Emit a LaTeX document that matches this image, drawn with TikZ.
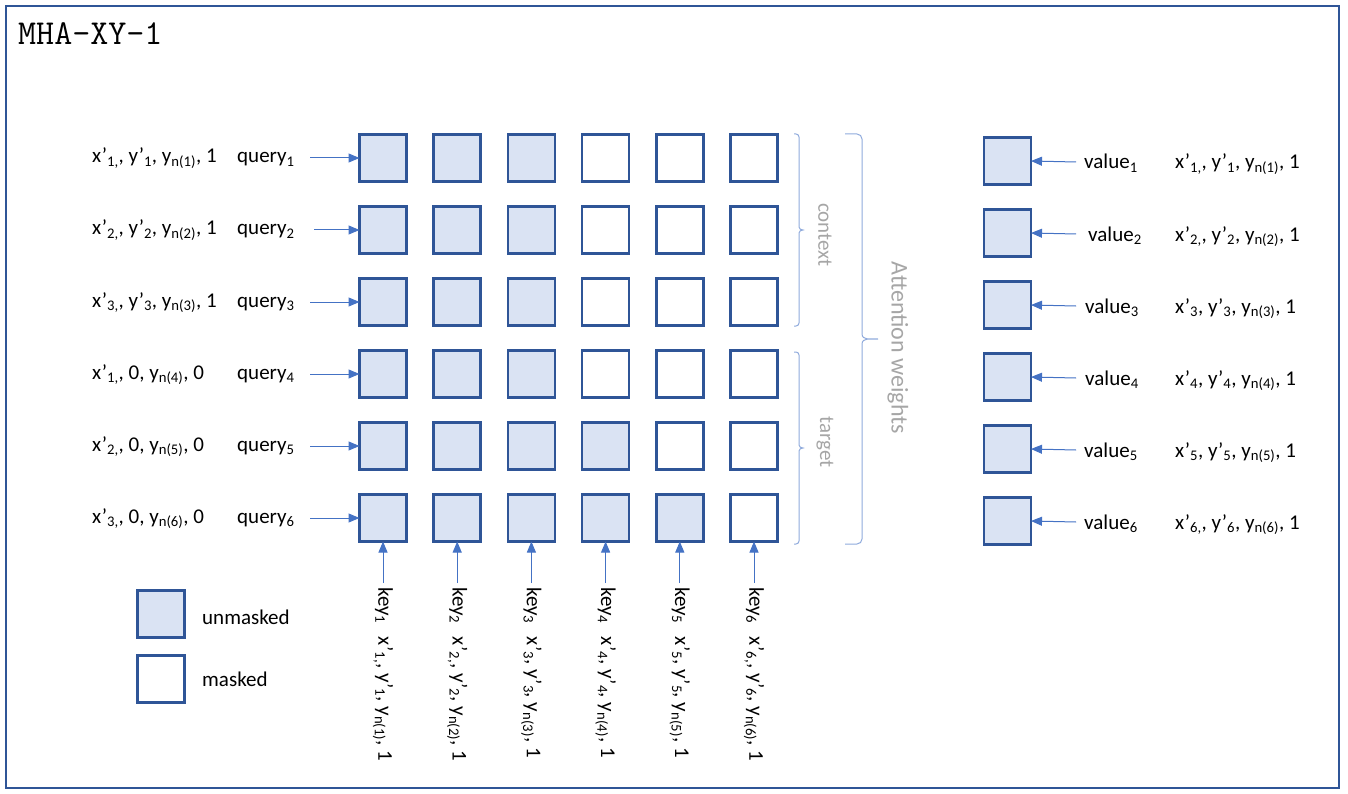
\documentclass[tikz,border=0pt]{standalone}
\usepackage{fontspec}
\setmainfont{Carlito}
\usetikzlibrary{arrows.meta}
\definecolor{boxline}{HTML}{2F5597}
\definecolor{boxfill}{HTML}{DAE3F3}
\definecolor{arr}{HTML}{4472C4}
\definecolor{brc}{HTML}{8FAADC}
\definecolor{lbl}{HTML}{A6A6A6}
\tikzset{
  cell/.style={draw=boxline, line width=2.5pt, minimum size=47pt, inner sep=0pt, outer sep=0pt},
  oncell/.style={cell, fill=boxfill},
  offcell/.style={cell, fill=white},
  arrowln/.style={draw=arr, line width=1pt, -{Triangle[length=11pt,width=9pt]}},
  txt/.style={font=\fontsize{21}{25}\selectfont, inner sep=0pt, anchor=base west},
  keytxt/.style={font=\fontsize{21}{25}\selectfont, inner sep=0pt, rotate=-90, anchor=west},
  bracestyle/.style={draw=brc, line width=1pt},
  graytxt/.style={text=lbl, inner sep=0pt, rotate=-90}
}
\begin{document}
\begin{tikzpicture}[x=1pt,y=-1pt]
\useasboundingbox (0,0) rectangle (1348,794);
\draw[boxline, line width=2pt] (6,6) rectangle (1339,788);
\node[inner sep=0pt, anchor=base west, font=\ttfamily\fontsize{35}{40}\selectfont] (title) at (18,45) {MHA-XY-1};

% grid
\foreach \r in {1,...,6}{
  \foreach \c in {1,...,6}{
    \pgfmathtruncatemacro\lim{max(3,\r-1)}
    \ifnum\c>\lim
      \node[offcell] (g\r-\c) at ({383+74.2*(\c-1)}, {158+72*(\r-1)}) {};
    \else
      \node[oncell] (g\r-\c) at ({383+74.2*(\c-1)}, {158+72*(\r-1)}) {};
    \fi
  }
}

% queries
\foreach \r/\t/\sx in {
  1/{x’\textsubscript{1,}, y’\textsubscript{1}, y\textsubscript{n(1)}, 1}/310,
  2/{x’\textsubscript{2,}, y’\textsubscript{2}, y\textsubscript{n(2)}, 1}/314,
  3/{x’\textsubscript{3,}, y’\textsubscript{3}, y\textsubscript{n(3)}, 1}/310,
  4/{x’\textsubscript{1,}, 0, y\textsubscript{n(4)}, 0}/310,
  5/{x’\textsubscript{2,}, 0, y\textsubscript{n(5)}, 0}/310,
  6/{x’\textsubscript{3,}, 0, y\textsubscript{n(6)}, 0}/310}{
  \node[txt] (qc\r) at (92, {158+72*(\r-1)+5}) {\t};
  \node[txt] (q\r) at (237, {158+72*(\r-1)+5}) {query\textsubscript{\r}};
  \coordinate (qs\r) at (\sx, {158+72*(\r-1)});
  \draw[arrowln] (qs\r) -- (g\r-1.west);
}

% keys
\foreach \c/\t in {
  1/{x’\textsubscript{1,}, y’\textsubscript{1}, y\textsubscript{n(1)}, 1},
  2/{x’\textsubscript{2,}, y’\textsubscript{2}, y\textsubscript{n(2)}, 1},
  3/{x’\textsubscript{3}, y’\textsubscript{3}, y\textsubscript{n(3)}, 1},
  4/{x’\textsubscript{4}, y’\textsubscript{4}, y\textsubscript{n(4)}, 1},
  5/{x’\textsubscript{5}, y’\textsubscript{5}, y\textsubscript{n(5)}, 1},
  6/{x’\textsubscript{6,}, y’\textsubscript{6}, y\textsubscript{n(6)}, 1}}{
  \node[keytxt] (k\c) at ({383+74.2*(\c-1)}, 587) {key\textsubscript{\c}\hspace{13pt}\t};
  \coordinate (ks\c) at ({383+74.2*(\c-1)}, 583);
  \draw[arrowln] (ks\c) -- (g6-\c.south);
}

% values
\foreach \r/\t/\lx in {
  1/{x’\textsubscript{1,}, y’\textsubscript{1}, y\textsubscript{n(1)}, 1}/1084,
  2/{x’\textsubscript{2,}, y’\textsubscript{2}, y\textsubscript{n(2)}, 1}/1088,
  3/{x’\textsubscript{3}, y’\textsubscript{3}, y\textsubscript{n(3)}, 1}/1085,
  4/{x’\textsubscript{4}, y’\textsubscript{4}, y\textsubscript{n(4)}, 1}/1085,
  5/{x’\textsubscript{5}, y’\textsubscript{5}, y\textsubscript{n(5)}, 1}/1084,
  6/{x’\textsubscript{6,}, y’\textsubscript{6}, y\textsubscript{n(6)}, 1}/1084}{
  \node[oncell] (v\r) at (1007.5, {161+72*(\r-1)}) {};
  \node[txt] (vl\r) at (\lx, {161+72*(\r-1)+8}) {value\textsubscript{\r}};
  \node[txt] (vc\r) at (1175, {161+72*(\r-1)+8}) {\t};
  \coordinate (vs\r) at (1076, {161+72*(\r-1)+1});
  \draw[arrowln] (vs\r) -- (v\r.east);
}

% braces
\draw[bracestyle] (794,134) -- (796,134) to[out=0,in=90] (799,137) -- (799,227)
  to[out=-90,in=180] (803,230) to[out=180,in=90] (799,233) -- (799,323)
  to[out=-90,in=0] (796,326) -- (794,326);
\draw[bracestyle] (794,352) -- (796,352) to[out=0,in=90] (799,355) -- (799,445)
  to[out=-90,in=180] (803,448) to[out=180,in=90] (799,451) -- (799,541)
  to[out=-90,in=0] (796,544) -- (794,544);
\draw[bracestyle] (845,134) -- (857,134) to[out=0,in=90] (862,139) -- (862,334)
  to[out=-90,in=180] (878,339) to[out=180,in=90] (862,344) -- (862,539)
  to[out=-90,in=0] (857,544) -- (845,544);
\node[graytxt, font=\fontsize{21}{25}\selectfont] (ctx) at (825,235) {context};
\node[graytxt, font=\fontsize{21}{25}\selectfont] (tgt) at (825,442) {target};
\node[graytxt, font=\fontsize{24}{28}\selectfont] (attw) at (898,348) {Attention weights};

% legend
\node[oncell] (lg1) at (161,614) {};
\node[offcell] (lg2) at (161,679) {};
\node[txt] (lt1) at (202,624) {unmasked};
\node[txt] (lt2) at (202,686) {masked};
\end{tikzpicture}
\end{document}
